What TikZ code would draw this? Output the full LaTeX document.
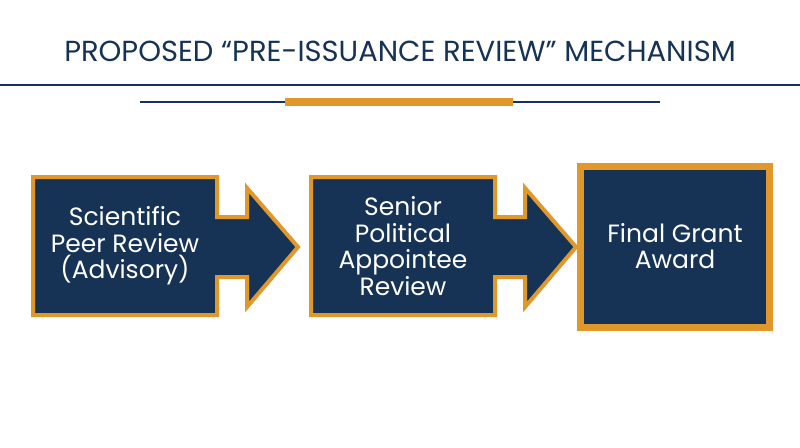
\documentclass[tikz,border=0pt]{standalone}
\usepackage{fontspec}
\setmainfont{Poppins}
\definecolor{navy}{HTML}{163356}
\definecolor{gold}{HTML}{E0982A}
\begin{document}
\begin{tikzpicture}[x=1pt,y=-1pt,
  arr/.style={fill=navy,draw=gold,line width=4pt,line join=miter},
  lbl/.style={text=white,font=\fontsize{25}{26.5}\selectfont,align=center}]
\useasboundingbox (0,0) rectangle (800,447);
\node[text=navy,font=\fontsize{29}{32}\selectfont] (title) at (400,51) {PROPOSED “PRE-ISSUANCE REVIEW” MECHANISM};
\draw[navy,line width=2pt] (0,85) coordinate (l1a) -- (800,85) coordinate (l1b);
\draw[navy,line width=2pt] (140,102) coordinate (l2a) -- (660,102) coordinate (l2b);
\fill[gold] (285,98) rectangle (513,106);
\foreach \o/\n in {0/a1,278/a2}{
  \draw[arr,xshift=\o] (33,177) -- (217,177) -- (217,217) -- (247,217) -- (247,188) -- (298,247) -- (247,307) -- (247,277) -- (217,277) -- (217,315) -- (33,315) -- cycle;
}
\node[lbl] (t1) at (125,246) {Scientific\\Peer Review\\(Advisory)};
\node[lbl] (t2) at (403,246) {Senior\\Political\\Appointee\\Review};
\draw[fill=navy,draw=gold,line width=7pt] (580,166) rectangle (769,327);
\node[lbl] (t3) at (675,246) {Final Grant\\Award};
\end{tikzpicture}
\end{document}
